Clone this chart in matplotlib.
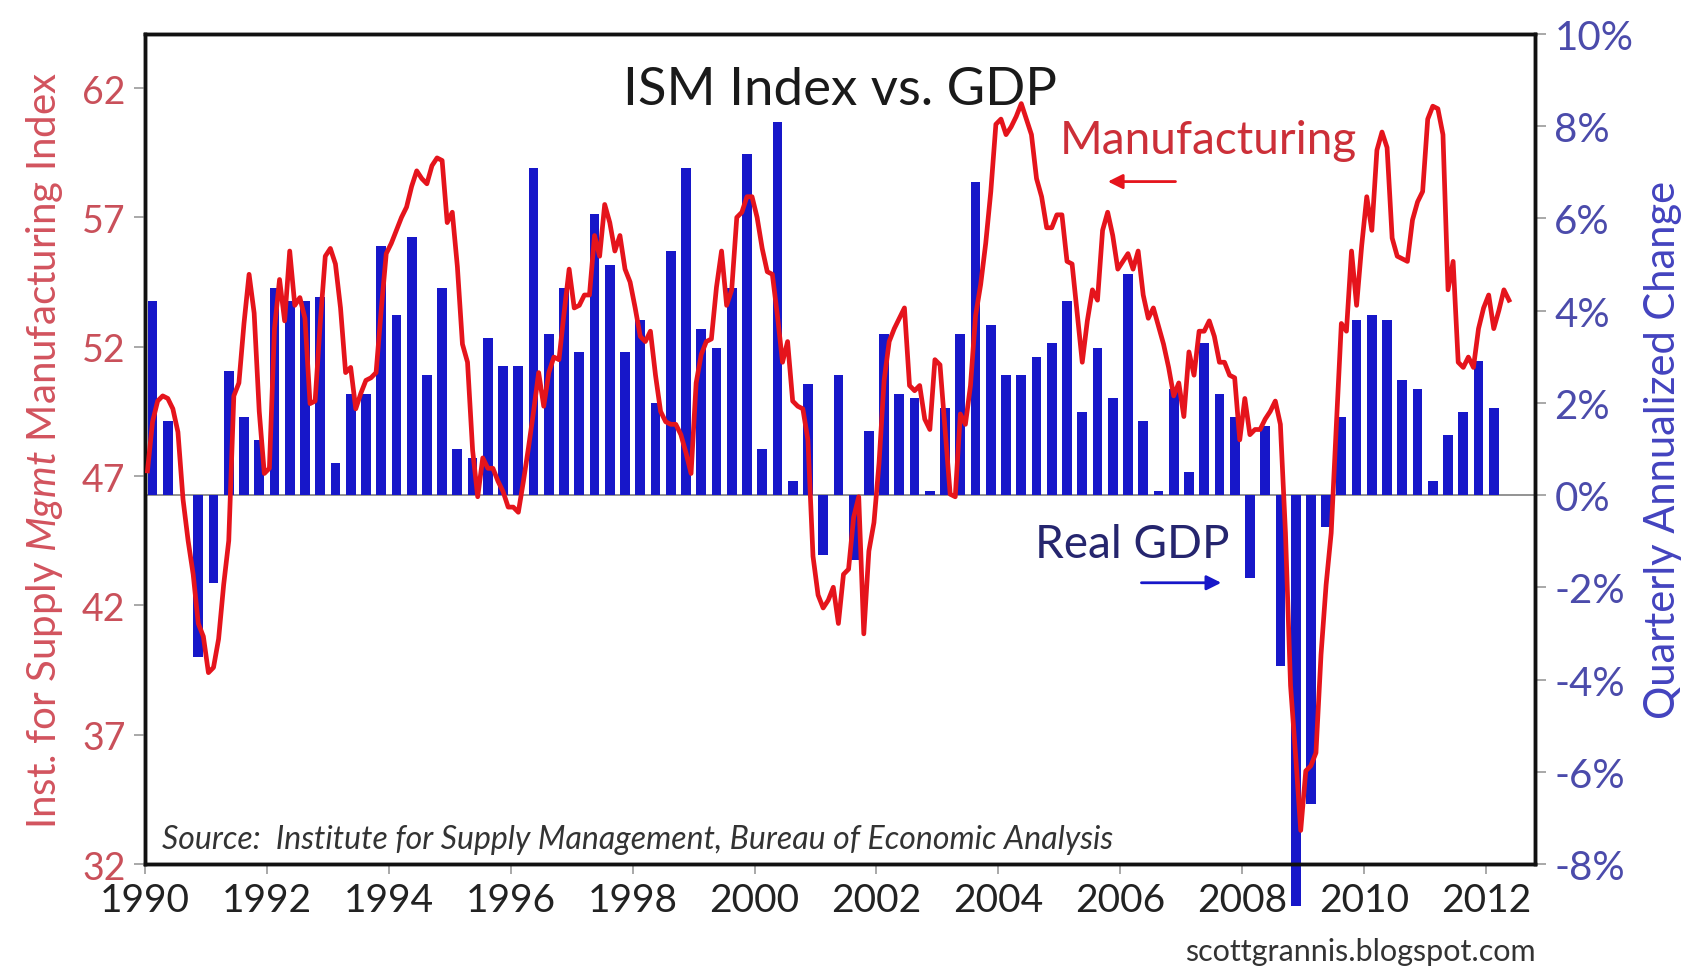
import matplotlib
matplotlib.use("Agg")
import matplotlib.pyplot as plt
import numpy as np

plt.rcParams["font.family"] = ["Lato", "DejaVu Sans"]
plt.rcParams["axes.unicode_minus"] = False
plt.rcParams["mathtext.fontset"] = "custom"
plt.rcParams["mathtext.it"] = "Lato:italic"
plt.rcParams["mathtext.rm"] = "Lato"

# Real GDP, quarterly annualized % change, 1990Q1 .. 2012Q1
gdp_growth = [
    4.2, 1.6, 0.0, -3.5,    # 1990
    -1.9, 2.7, 1.7, 1.2,    # 1991
    4.5, 4.2, 4.2, 4.3,     # 1992
    0.7, 2.2, 2.2, 5.4,     # 1993
    3.9, 5.6, 2.6, 4.5,     # 1994
    1.0, 0.8, 3.4, 2.8,     # 1995
    2.8, 7.1, 3.5, 4.5,     # 1996
    3.1, 6.1, 5.0, 3.1,     # 1997
    3.8, 2.0, 5.3, 7.1,     # 1998
    3.6, 3.2, 4.5, 7.4,     # 1999
    1.0, 8.1, 0.3, 2.4,     # 2000
    -1.3, 2.6, -1.4, 1.4,   # 2001
    3.5, 2.2, 2.1, 0.1,     # 2002
    1.9, 3.5, 6.8, 3.7,     # 2003
    2.6, 2.6, 3.0, 3.3,     # 2004
    4.2, 1.8, 3.2, 2.1,     # 2005
    4.8, 1.6, 0.1, 2.3,     # 2006
    0.5, 3.3, 2.2, 1.7,     # 2007
    -1.8, 1.5, -3.7, -8.9,  # 2008
    -6.7, -0.7, 1.7, 3.8,   # 2009
    3.9, 3.8, 2.5, 2.3,     # 2010
    0.3, 1.3, 1.8, 2.9,     # 2011
    1.9,                    # 2012
]

# ISM manufacturing index, monthly, Jan 1990 .. May 2012
ism_index = [
    47.2, 49.1, 49.9, 50.1, 50.0, 49.6, 48.7, 46.1, 44.5, 43.2, 41.3, 40.8,  # 1990
    39.4, 39.6, 40.7, 42.8, 44.5, 50.1, 50.6, 52.9, 54.8, 53.3, 49.5, 47.1,  # 1991
    47.3, 52.7, 54.6, 53.0, 55.7, 53.6, 53.9, 53.1, 49.8, 49.9, 52.9, 55.5,  # 1992
    55.8, 55.2, 53.5, 51.0, 51.2, 49.6, 50.2, 50.7, 50.8, 51.0, 53.4, 55.6,  # 1993
    56.0, 56.5, 57.0, 57.4, 58.2, 58.8, 58.5, 58.3, 59.0, 59.3, 59.2, 56.8,  # 1994
    57.2, 55.1, 52.1, 51.4, 48.0, 46.2, 47.7, 47.3, 47.3, 46.8, 46.4, 45.8,  # 1995
    45.8, 45.6, 46.8, 48.1, 49.5, 51.0, 49.7, 51.0, 51.6, 51.5, 53.3, 55.0,  # 1996
    53.5, 53.6, 54.0, 54.0, 56.3, 55.5, 57.5, 56.8, 55.7, 56.3, 55.0, 54.5,  # 1997
    53.5, 52.4, 52.2, 52.6, 50.9, 49.5, 49.1, 49.0, 49.0, 48.6, 47.9, 47.1,  # 1998
    50.6, 51.7, 52.2, 52.3, 54.3, 55.7, 53.6, 54.2, 57.0, 57.2, 57.8, 57.8,  # 1999
    57.0, 55.8, 54.9, 54.8, 53.2, 51.4, 52.2, 49.9, 49.7, 49.6, 48.4, 43.9,  # 2000
    42.4, 41.9, 42.2, 42.7, 41.3, 43.2, 43.4, 45.4, 46.2, 40.9, 44.1, 45.2,  # 2001
    47.5, 50.7, 52.2, 52.7, 53.1, 53.5, 50.5, 50.3, 50.5, 49.2, 48.8, 51.5,  # 2002
    51.3, 48.8, 46.3, 46.2, 49.4, 49.0, 50.5, 53.2, 54.4, 56.0, 58.0, 60.6,  # 2003
    60.8, 60.2, 60.5, 60.9, 61.4, 60.8, 60.2, 58.5, 57.8, 56.6, 56.6, 57.1,  # 2004
    57.1, 55.3, 55.2, 53.3, 51.4, 53.0, 54.2, 53.8, 56.5, 57.2, 56.3, 55.0,  # 2005
    55.3, 55.6, 55.0, 55.7, 54.0, 53.1, 53.5, 52.8, 52.1, 51.2, 50.1, 50.6,  # 2006
    49.3, 51.8, 50.9, 52.6, 52.6, 53.0, 52.4, 51.4, 51.4, 50.9, 50.8, 48.4,  # 2007
    50.0, 48.6, 48.8, 48.8, 49.2, 49.5, 49.9, 49.0, 44.8, 38.9, 36.2, 33.3,  # 2008
    35.6, 35.8, 36.3, 40.1, 42.8, 44.8, 48.9, 52.9, 52.6, 55.7, 53.6, 55.9,  # 2009
    57.8, 56.5, 59.6, 60.3, 59.7, 56.2, 55.5, 55.4, 55.3, 56.9, 57.6, 58.0,  # 2010
    60.8, 61.3, 61.2, 60.2, 54.2, 55.3, 51.4, 51.2, 51.6, 51.2, 52.7, 53.5,  # 2011
    54.0, 52.7, 53.4, 54.2, 53.8,                                            # 2012
]

year_ticks = list(range(1990, 2013, 2))
ism_ticks = [32, 37, 42, 47, 52, 57, 62]
gdp_ticks = list(range(-8, 11, 2))

BLUE = "#1717c9"
RED = "#e5141c"

gdp_x = 1990 + 0.125 + 0.25 * np.arange(len(gdp_growth))
ism_x = 1990 + (np.arange(len(ism_index)) + 0.5) / 12

fig = plt.figure(figsize=(17.03, 9.70), dpi=100)
ax = fig.add_axes([0.0851, 0.1082, 0.8162, 0.8557])
ax2 = ax.twinx()  # twinx moves ax's ticks to the left, so set sides afterwards

# bars on the main axes, scale shown on the right; the 2008Q4 bar pokes below the frame
ax.bar(gdp_x, gdp_growth, width=0.16, color=BLUE, zorder=2, clip_on=False)
ax.axhline(0, color="#808080", lw=1.2, zorder=1)
ax.set_ylim(-8, 10)
ax.set_xlim(1990, 2012.8)
ax.yaxis.tick_right()
ax.yaxis.set_label_position("right")
ax.set_yticks(gdp_ticks)
ax.set_yticklabels([f"{t}%" for t in gdp_ticks])
ax.tick_params(axis="y", colors="#9a9a9a", labelcolor="#4b4bab", labelsize=29,
               length=8, width=1.2, pad=6)
ax.set_ylabel("Quarterly Annualized Change", color="#4343bf", fontsize=30, labelpad=8)

ax.set_xticks(year_ticks)
ax.set_xticklabels([str(y) for y in year_ticks])
ax.tick_params(axis="x", colors="#9a9a9a", labelcolor="#222222", labelsize=28,
               length=7, width=1.2, pad=6)

# ISM line on the twin axes, scale on the left
ax2.plot(ism_x, ism_index, color=RED, lw=3.4, zorder=3)
ax2.set_ylim(32, 64.09)
ax2.yaxis.tick_left()
ax2.yaxis.set_label_position("left")
ax2.set_yticks(ism_ticks)
ax2.tick_params(axis="y", colors="#9a9a9a", labelcolor="#c9505a", labelsize=27,
                length=8, width=1.2, pad=6)
ax2.set_ylabel(r"Inst. for Supply $\mathit{Mgmt}$ Manufacturing Index", color="#d2535e",
               fontsize=29, labelpad=12)

for a in (ax, ax2):
    for s in a.spines.values():
        s.set_linewidth(2.5)
        s.set_color("#111111")

ax.text(0.5, 0.962, "ISM Index vs. GDP", transform=ax.transAxes, ha="center",
        va="top", fontsize=38, color="#1a1a1a")

ax.text(2007.45, 7.7, "Manufacturing", fontsize=33, color="#cc2f38", ha="center", va="center")
ax.annotate("", xy=(2005.75, 6.8), xytext=(2006.95, 6.8),
            arrowprops=dict(arrowstyle="-|>", color=RED, lw=2, mutation_scale=22))

ax.text(2006.2, -1.05, "Real GDP", fontsize=33, color="#25256e", ha="center", va="center")
ax.annotate("", xy=(2007.7, -1.9), xytext=(2006.3, -1.9),
            arrowprops=dict(arrowstyle="-|>", color=BLUE, lw=2, mutation_scale=22))

ax.text(0.012, 0.012, "Source:  Institute for Supply Management, Bureau of Economic Analysis",
        transform=ax.transAxes, fontsize=23, style="italic", color="#333333",
        ha="left", va="bottom")

fig.text(0.902, 0.019, "scottgrannis.blogspot.com", fontsize=22, color="#333333",
         ha="right", va="center")

fig.savefig("out.png", dpi=100)
